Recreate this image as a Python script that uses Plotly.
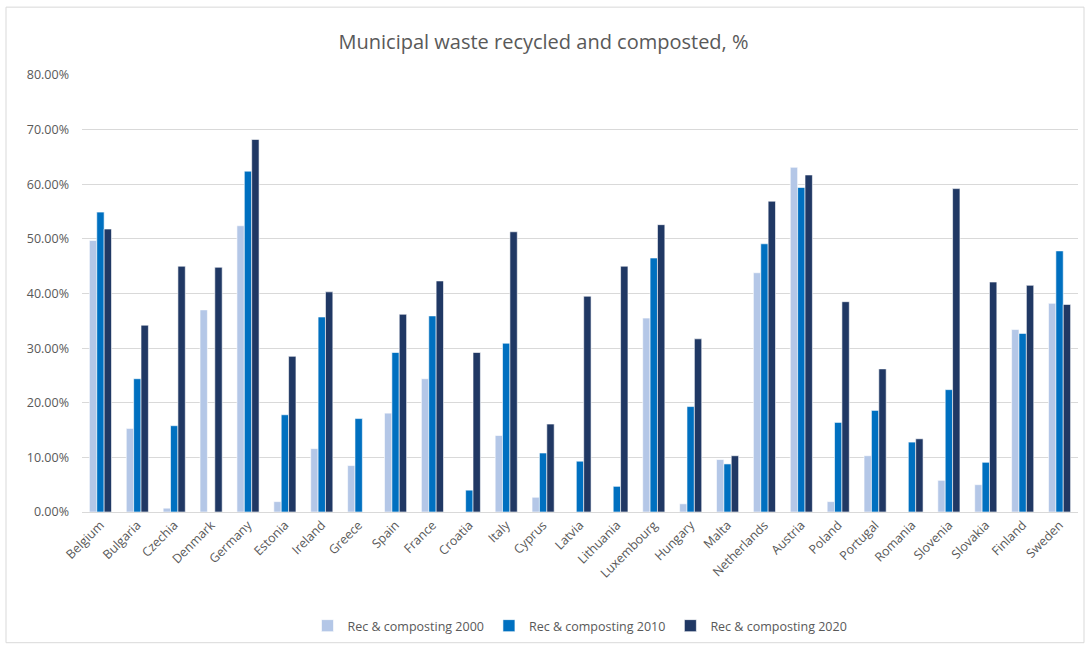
import plotly.graph_objects as go

countries = ["Belgium", "Bulgaria", "Czechia", "Denmark", "Germany", "Estonia", "Ireland",
             "Greece", "Spain", "France", "Croatia", "Italy", "Cyprus", "Latvia", "Lithuania",
             "Luxembourg", "Hungary", "Malta", "Netherlands", "Austria", "Poland", "Portugal",
             "Romania", "Slovenia", "Slovakia", "Finland", "Sweden"]

rec_2000 = [49.7, 15.3, 0.7, 37.0, 52.4, 1.9, 11.6, 8.5, 18.1, 24.4, None, 14.0, 2.7, None, None,
            35.5, 1.5, 9.6, 43.8, 63.1, 1.9, 10.3, None, 5.8, 5.0, 33.4, 38.2]
rec_2010 = [54.9, 24.4, 15.8, None, 62.4, 17.8, 35.7, 17.1, 29.2, 35.9, 4.0, 30.9, 10.8, 9.3, 4.7,
            46.5, 19.3, 8.8, 49.1, 59.4, 16.4, 18.6, 12.8, 22.4, 9.1, 32.7, 47.8]
rec_2020 = [51.8, 34.2, 45.0, 44.8, 68.2, 28.5, 40.3, None, 36.2, 42.3, 29.2, 51.3, 16.1, 39.5, 45.0,
            52.6, 31.7, 10.3, 56.9, 61.7, 38.5, 26.2, 13.4, 59.2, 42.1, 41.5, 38.0]

series_names = ["Rec & composting 2000", "Rec & composting 2010", "Rec & composting 2020"]
series_colors = ["#b4c7e7", "#0070c0", "#203864"]
y_ticks = [0, 0.1, 0.2, 0.3, 0.4, 0.5, 0.6, 0.7, 0.8]

def frac(vals):
    return [None if v is None else v / 100 for v in vals]

fig = go.Figure()
for name, vals, col in zip(series_names, [rec_2000, rec_2010, rec_2020], series_colors):
    fig.add_trace(go.Bar(x=countries, y=frac(vals), name=name,
                         marker=dict(color=col, line=dict(color="white", width=0.6))))

FONT = "Open Sans, Liberation Sans, sans-serif"
L, R, T, B = 82, 9, 75, 136
W, H = 1087, 649
pw, ph = W - L - R, H - T - B

fig.update_layout(
    width=W, height=H,
    margin=dict(l=L, r=R, t=T, b=B),
    paper_bgcolor="white", plot_bgcolor="white",
    barmode="group", bargap=0.4, bargroupgap=0.0,
    title=dict(text="Municipal waste recycled and composted, %", x=0.5, xanchor="center",
               y=1 - 42 / H, yanchor="middle",
               font=dict(family=FONT, size=20, color="#595959")),
    font=dict(family=FONT, size=12, color="#595959"),
    xaxis=dict(tickangle=-45, showgrid=False, showline=True, linecolor="#d9d9d9",
               tickfont=dict(size=12.5, color="#595959"), ticks=""),
    yaxis=dict(range=[0, 0.8], tickvals=y_ticks, tickformat=".2%", showgrid=True,
               gridcolor="#d9d9d9", gridwidth=1, zeroline=False, showline=False,
               tickfont=dict(size=12.5, color="#595959"), ticks="", ticklabelstandoff=12),
    legend=dict(orientation="h", x=0.5, xanchor="center", y=(513 - 626) / ph, yanchor="middle",
                font=dict(size=12.5, color="#595959"), traceorder="normal"),
    shapes=[dict(type="rect", xref="paper", yref="paper",
                 x0=(6 - L) / pw, x1=(1084 - L) / pw,
                 y0=(H - B - 644) / ph, y1=(H - B - 7) / ph,
                 line=dict(color="#d9d9d9", width=1), fillcolor="rgba(0,0,0,0)", layer="below")],
)

fig.write_html("out.html", config={"displayModeBar": False},
               post_script="document.body.style.margin='0px';document.body.style.overflow='hidden';")
